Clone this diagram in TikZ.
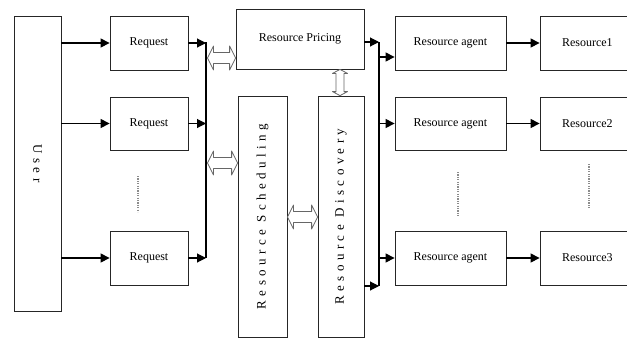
\documentclass[tikz,border=0pt]{standalone}
\usepackage{fontspec}
\setmainfont{Liberation Serif}
\newfontfamily\spacedfont[LetterSpace=34]{Liberation Serif}
\usetikzlibrary{arrows.meta,calc}
% hollow double arrow between two points: \hdarrow{start}{end}{half shaft}{half head}{head length}
\newcommand\hdarrow[5]{%
  \draw[dbl] let \p1=(#1), \p2=(#2), \n1={atan2(\y2-\y1,\x2-\x1)} in
    [shift={(\p1)},rotate=\n1]
    (0,0) -- (#5,-#4) -- (#5,-#3) -- ({veclen(\x2-\x1,\y2-\y1)-#5},-#3)
    -- ({veclen(\x2-\x1,\y2-\y1)-#5},-#4) -- ({veclen(\x2-\x1,\y2-\y1)},0)
    -- ({veclen(\x2-\x1,\y2-\y1)-#5},#4) -- ({veclen(\x2-\x1,\y2-\y1)-#5},#3)
    -- (#5,#3) -- (#5,#4) -- cycle;}
\begin{document}
\begin{tikzpicture}[x=1pt,y=-1pt,
  box/.style={draw=black!85,line width=0.8pt,inner sep=0pt,font=\fontsize{12}{14}\selectfont},
  vbox/.style={box,font=\fontsize{13}{15}\spacedfont},
  conn/.style={line width=1.1pt,-{Triangle[length=9pt,width=9pt]}},
  plain/.style={line width=1.1pt},
  dbl/.style={draw=black!60,line width=0.8pt,fill=white,line join=round},
  vdots/.style={draw=black!45,line width=1.3pt,dash pattern=on 1.2pt off 1.2pt}]
\useasboundingbox (0,0) rectangle (627,338);
% boxes
\node[vbox,rotate=-90,minimum width=295pt,minimum height=47pt] (user) at (37.5,163.5) {User};
\node[box,minimum width=78pt,minimum height=54pt] (req1) at (149,43) {Request};
\node[box,minimum width=78pt,minimum height=53pt] (req2) at (149,123.5) {Request};
\node[box,minimum width=78pt,minimum height=54pt] (req3) at (149,258) {Request};
\node[box,minimum width=128pt,minimum height=60pt] (price) at (300,39) {Resource Pricing};
\node[vbox,rotate=90,minimum width=241pt,minimum height=49pt] (sched) at (262.5,216.5) {Resource Scheduling};
\node[vbox,rotate=90,minimum width=241pt,minimum height=46pt] (disc) at (341,216.5) {Resource Discovery};
\node[box,minimum width=111pt,minimum height=54pt] (ag1) at (450.5,43) {Resource agent};
\node[box,minimum width=111pt,minimum height=53pt] (ag2) at (450.5,123.5) {Resource agent};
\node[box,minimum width=111pt,minimum height=54pt] (ag3) at (450.5,258) {Resource agent};
\node[box,minimum width=100pt,minimum height=54pt,text width=100pt,align=left] (res1) at (590,43) {\hspace*{22pt}Resource1};
\node[box,minimum width=100pt,minimum height=53pt,text width=100pt,align=left] (res2) at (590,123.5) {\hspace*{22pt}Resource2};
\node[box,minimum width=100pt,minimum height=54pt,text width=100pt,align=left] (res3) at (590,258) {\hspace*{22pt}Resource3};
% buses
\coordinate (b1top) at (206,42);
\coordinate (b1bot) at (206,258);
\coordinate (b2top) at (379,42);
\coordinate (b2bot) at (379,286);
\draw[plain] (b1top) -- (b1bot);
\draw[plain] (b2top) -- (b2bot);
% user -> requests -> bus 1
\foreach \r in {req1,req2,req3}{
  \draw[conn] (user.north |- \r) -- (\r.west);
  \draw[conn] (\r.east) -- (b1top |- \r);
}
% pricing / discovery -> bus 2
\draw[conn] (price.east |- b2top) -- (b2top);
\draw[conn] (disc.south |- b2bot) -- (b2bot);
% bus 2 -> agents
\draw[conn] (b2top |- 0,57) -- (ag1.west |- 0,57);
\draw[conn] (b2top |- ag2) -- (ag2.west);
\draw[conn] (b2top |- ag3) -- (ag3.west);
% agents -> resources
\draw[conn] (ag1.east) -- (res1.west);
\draw[conn] (ag2.east) -- (res2.west);
\draw[conn] (ag3.east) -- (res3.west);
% hollow double arrows
\coordinate (d1a) at (207.5,58);
\coordinate (d2a) at (207.5,163);
\hdarrow{d1a}{price.west |- d1a}{5.5}{12}{6}
\hdarrow{d2a}{sched.north |- d2a}{5.5}{12}{6}
\coordinate (d3a) at (287.5,217);
\hdarrow{d3a}{disc.north |- d3a}{5.5}{12}{6}
\hdarrow{price.south -| 340,0}{disc.east -| 340,0}{4}{7.5}{4}
% ellipsis dots
\draw[vdots] (138,176) -- (138,212);
\draw[vdots] (458,172) -- (458,217);
\draw[vdots] (589,164) -- (589,208);
\end{tikzpicture}
\end{document}
